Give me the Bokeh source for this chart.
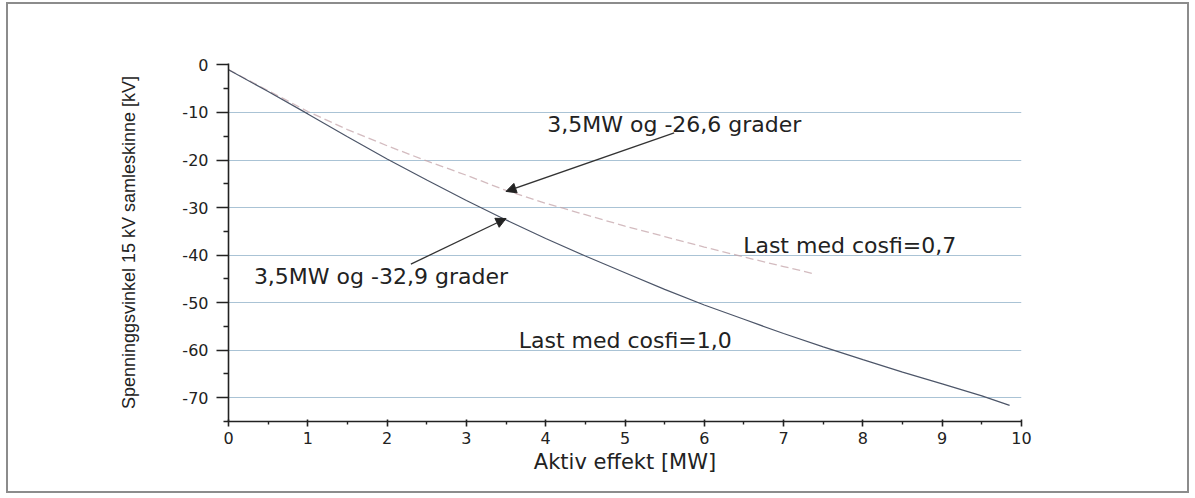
from bokeh.plotting import figure
from bokeh.models import (Range1d, FixedTicker, Label, Arrow, NormalHead,
                          ColumnDataSource)
from bokeh.embed import file_html
from bokeh.resources import INLINE

# ---- data ----
p_cos10 = [0, 0.5, 1, 1.5, 2, 2.5, 3, 3.5, 4, 4.5, 5, 5.5, 6, 6.5, 7, 7.5, 8, 8.5, 9, 9.5, 9.85]
ang_cos10 = [-1.0, -5.6, -10.3, -15.1, -19.8, -24.2, -28.5, -32.6, -36.5, -40.2, -43.7,
             -47.2, -50.5, -53.5, -56.5, -59.3, -62.0, -64.6, -67.1, -69.6, -71.6]

p_cos07 = [0, 0.5, 1, 1.5, 2, 2.5, 3, 3.5, 4, 4.5, 5, 5.5, 6, 6.5, 7, 7.4]
ang_cos07 = [-1.0, -5.4, -9.8, -13.6, -17.0, -20.2, -23.2, -26.4, -29.1, -31.5, -33.9,
             -36.1, -38.3, -40.4, -42.4, -44.0]

ann_p = [3.5, 3.5]
ann_ang = [-26.6, -32.9]
ann_text = ["3,5MW og -26,6 grader", "3,5MW og -32,9 grader"]
series_text = ["Last med cosfi=0,7", "Last med cosfi=1,0"]

x_ticks = [0, 1, 2, 3, 4, 5, 6, 7, 8, 9, 10]
y_ticks = [0, -10, -20, -30, -40, -50, -60, -70]

FONT = "DejaVu Sans"

p = figure(width=1183, height=491, output_backend="svg", toolbar_location=None,
           x_range=Range1d(0, 10), y_range=Range1d(-75, 0.3),
           min_border_left=220, min_border_right=170, min_border_top=59,
           min_border_bottom=74)
p.styles = {"border": "2px solid #8c8c8c", "margin-left": "6px", "margin-top": "2px"}
p.outline_line_color = None
p.background_fill_color = "white"
p.border_fill_color = "white"

# grid
p.xgrid.visible = False
p.ygrid.ticker = FixedTicker(ticks=[t for t in y_ticks if t != 0])
p.ygrid.grid_line_color = "#aac3d5"
p.ygrid.grid_line_width = 1

# axes
for ax in (p.xaxis[0], p.yaxis[0]):
    ax.axis_line_color = "#222222"
    ax.axis_line_width = 1.6
    ax.major_tick_line_color = "#222222"
    ax.major_tick_line_width = 1.6
    ax.minor_tick_line_color = "#222222"
    ax.minor_tick_line_width = 1.4
    ax.major_label_text_font = FONT
    ax.major_label_text_font_size = "16px"
    ax.major_label_text_color = "#222222"
    ax.axis_label_text_color = "#222222"
    ax.axis_label_text_font_style = "normal"

p.xaxis.ticker = FixedTicker(ticks=x_ticks, minor_ticks=[x + 0.5 for x in x_ticks[:-1]])
p.xaxis.major_tick_in = 2
p.xaxis.major_tick_out = 5
p.xaxis.minor_tick_in = 0
p.xaxis.minor_tick_out = 3
p.xaxis.major_label_standoff = 5
p.xaxis.axis_label = "Aktiv effekt [MW]"
p.xaxis.axis_label_text_font = FONT
p.xaxis.axis_label_text_font_size = "21px"
p.xaxis.axis_label_standoff = 3

p.yaxis.ticker = FixedTicker(ticks=y_ticks, minor_ticks=[y - 5 for y in y_ticks])
p.yaxis.major_label_overrides = {t: str(t) for t in y_ticks}
p.yaxis.major_tick_in = 0
p.yaxis.major_tick_out = 12
p.yaxis.minor_tick_in = 0
p.yaxis.minor_tick_out = 5
p.yaxis.major_label_standoff = 8
p.yaxis.axis_label = "Spenninggsvinkel 15 kV samleskinne [kV]"
p.yaxis.axis_label_text_font = "Liberation Sans"
p.yaxis.axis_label_text_font_size = "18px"
p.yaxis.axis_label_standoff = 40

# curves
src07 = ColumnDataSource(dict(x=p_cos07, y=ang_cos07))
src10 = ColumnDataSource(dict(x=p_cos10, y=ang_cos10))
p.line("x", "y", source=src07, line_color="#c4a4aa", line_width=1.3, line_dash="8 4", line_alpha=0.75)
p.line("x", "y", source=src10, line_color="#4d5669", line_width=1.2)

# labels
txt_style = dict(text_font=FONT, text_font_size="22px", text_color="#222222",
                 text_baseline="middle", text_align="left")
p.add_layout(Label(x=4.02, y=-12.6, text=ann_text[0], **txt_style))
p.add_layout(Label(x=0.32, y=-44.6, text=ann_text[1], **txt_style))
p.add_layout(Label(x=6.49, y=-37.9, text=series_text[0], **txt_style))
p.add_layout(Label(x=3.66, y=-58.0, text=series_text[1], **txt_style))

# arrows
head = lambda: NormalHead(size=10, fill_color="#222222", line_color="#222222")
p.add_layout(Arrow(end=head(), x_start=5.62, y_start=-14.3, x_end=ann_p[0], y_end=ann_ang[0],
                   line_color="#333333", line_width=1.3))
p.add_layout(Arrow(end=head(), x_start=2.30, y_start=-41.9, x_end=ann_p[1], y_end=ann_ang[1] + 0.6,
                   line_color="#333333", line_width=1.3))

open("out.html", "w").write(file_html(p, INLINE))
